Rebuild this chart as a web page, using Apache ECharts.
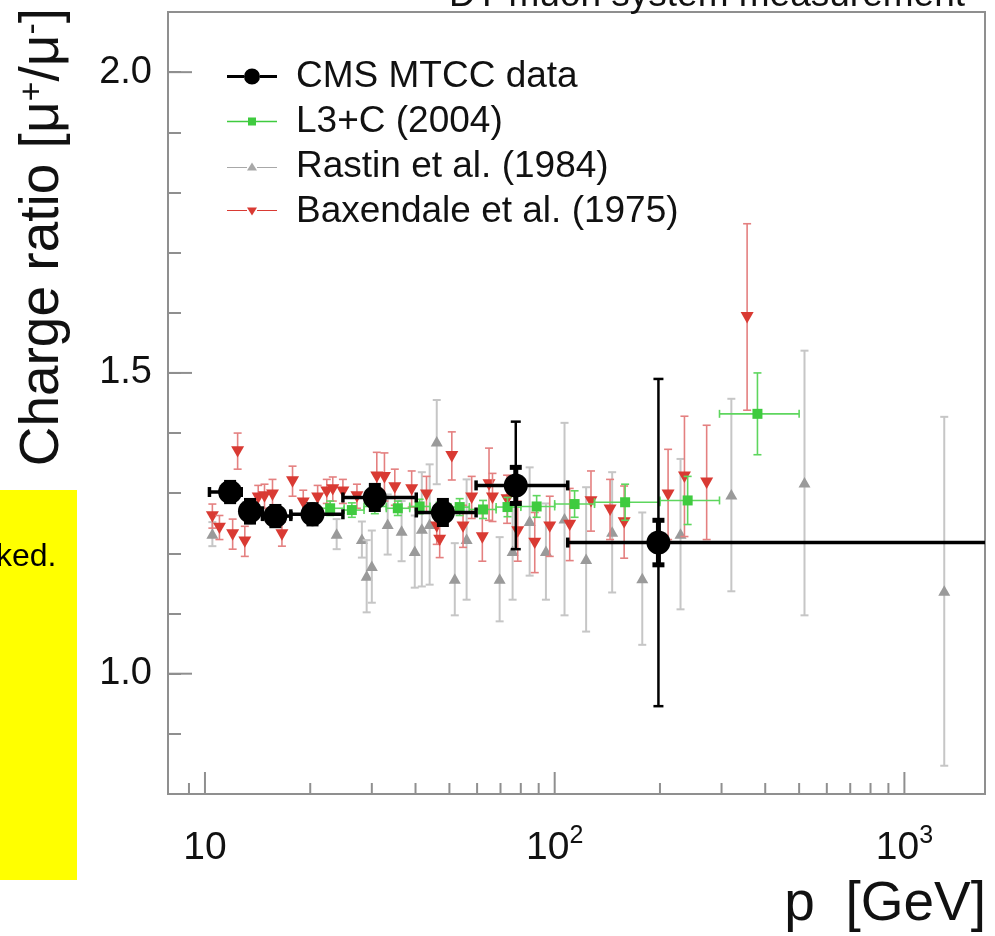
<!DOCTYPE html>
<html>
<head>
<meta charset="utf-8">
<script src="https://cdn.jsdelivr.net/npm/echarts@6/dist/echarts.min.js"></script>
<style>html,body{margin:0;padding:0;background:#fff}#c{width:995px;height:936px}</style>
</head>
<body>
<div id="c"></div>
<script>
// ---------------- data ----------------
const titleText = 'DT muon system measurement';
const yTitleText = 'Charge ratio [μ{s|+}/μ{s|-}]';
const xTitleText = 'p  [GeV]';
const noteText = 'ked.';
const seriesNames = ['CMS MTCC data', 'L3+C (2004)', 'Rastin et al. (1984)', 'Baxendale et al. (1975)'];

const xMin = 7.84, xMax = 1700;
const yMin = 0.8, yMax = 2.1;
const xMajorTicks = [10, 100, 1000];
const xMinorTicks = [9, 20, 30, 40, 50, 60, 70, 80, 90, 200, 300, 400, 500, 600, 700, 800, 900];
const yMajorTicks = [1.0, 1.5, 2.0];

// CMS MTCC data
const cmsP     = [11.8, 13.45, 15.9, 20.3, 30.6, 47.9, 77.4, 198];
const cmsR     = [1.302, 1.270, 1.262, 1.265, 1.293, 1.268, 1.313, 1.218];
const cmsPLo   = [10.3, 12.7, 14.6, 17.6, 24.8, 40.2, 59.6, 109];
const cmsPHi   = [12.7, 14.6, 17.6, 24.8, 40.2, 59.6, 109, 2000];
const cmsErr   = [0.016, 0.018, 0.016, 0.016, 0.02, 0.02, 0.106, 0.272];
const cmsStat  = [0.016, 0.018, 0.016, 0.016, 0.02, 0.02, 0.03, 0.037];

// L3+C (2004)
const l3cP   = [22.8, 26.3, 30.6, 35.6, 41.1, 46.9, 53.5, 62.4, 73.3, 88.8, 114, 159, 240, 380];
const l3cR   = [1.275, 1.272, 1.278, 1.275, 1.278, 1.272, 1.277, 1.273, 1.277, 1.278, 1.282, 1.285, 1.288, 1.432];
const l3cPLo = [20.5, 25, 28.5, 33, 38.5, 44, 50.5, 57, 68, 80, 100, 130, 200, 296];
const l3cPHi = [25, 28.5, 33, 38.5, 44, 50.5, 57, 68, 80, 100, 130, 200, 296, 500];
const l3cErr = [0.012, 0.012, 0.012, 0.012, 0.012, 0.013, 0.014, 0.015, 0.016, 0.018, 0.022, 0.03, 0.04, 0.068];

// Rastin et al. (1984)
const rastinP   = [10.5, 23.8, 28.1, 29.0, 30.0, 33.3, 36.5, 39.8, 41.7, 43.9, 46.0, 51.8, 56.0, 69.6, 75.8, 84.8, 94.4, 106.7, 123, 146, 178, 229, 320, 518, 1300];
const rastinR   = [1.232, 1.232, 1.223, 1.162, 1.178, 1.248, 1.237, 1.203, 1.24, 1.248, 1.385, 1.157, 1.223, 1.157, 1.203, 1.253, 1.203, 1.257, 1.19, 1.235, 1.158, 1.232, 1.297, 1.317, 1.137];
const rastinErr = [0.02, 0.025, 0.03, 0.06, 0.06, 0.05, 0.05, 0.06, 0.095, 0.10, 0.07, 0.06, 0.10, 0.07, 0.08, 0.09, 0.08, 0.16, 0.12, 0.10, 0.11, 0.125, 0.16, 0.22, 0.29];

// Baxendale et al. (1975)
const baxP   = [10.5, 11.0, 12.0, 12.4, 13.0, 14.2, 14.8, 15.6, 16.6, 17.8, 19.1, 21.0, 22.3, 23.2, 24.8, 27.2, 31.0, 32.6, 34.9, 39.0, 43.0, 46.0, 46.9, 50.8, 54.7, 57.9, 62.1, 64.9, 66.4, 73.1, 78.4, 87.7, 96.8, 110.4, 127, 144, 158, 211, 235, 272, 355];
const baxR   = [1.262, 1.243, 1.232, 1.37, 1.22, 1.293, 1.295, 1.298, 1.232, 1.32, 1.285, 1.293, 1.303, 1.307, 1.303, 1.295, 1.328, 1.327, 1.31, 1.307, 1.298, 1.245, 1.223, 1.362, 1.245, 1.293, 1.227, 1.315, 1.293, 1.29, 1.237, 1.218, 1.245, 1.248, 1.287, 1.273, 1.252, 1.298, 1.328, 1.318, 1.593];
const baxErr = [0.02, 0.02, 0.025, 0.03, 0.025, 0.02, 0.02, 0.025, 0.02, 0.025, 0.02, 0.02, 0.02, 0.02, 0.02, 0.02, 0.04, 0.04, 0.03, 0.03, 0.03, 0.03, 0.03, 0.04, 0.035, 0.035, 0.04, 0.06, 0.04, 0.04, 0.05, 0.05, 0.05, 0.06, 0.05, 0.05, 0.06, 0.075, 0.1, 0.095, 0.155];

// ---------------- styles ----------------
const FONT = 'Liberation Sans, Arial, Helvetica, sans-serif';
const TXT = '#111';
const FRAME = '#8f8f8f';
const cmsStyle = { color: '#000', line: '#000', lw: 2.5, cap: 5, marker: 'circle', size: 12, hbar: true, hw: 3.5, stat: true };
const l3cStyle = { color: '#3fcb3f', line: '#5ed65e', lw: 1.6, cap: 4, marker: 'rect', size: 5, hbar: true, hw: 1.6 };
const rastinStyle = { color: '#9a9a9a', line: '#c6c6c6', lw: 2, cap: 4, marker: 'up', size: 6 };
const baxStyle = { color: '#d93a33', line: '#e48080', lw: 1.6, cap: 4, marker: 'down', size: 6.5 };

function markerShape(kind, cx, cy, s, fill) {
  if (kind === 'circle') return { type: 'circle', shape: { cx: cx, cy: cy, r: s }, style: { fill: fill } };
  if (kind === 'rect') return { type: 'rect', shape: { x: cx - s, y: cy - s, width: 2 * s, height: 2 * s }, style: { fill: fill } };
  if (kind === 'up') return { type: 'polygon', shape: { points: [[cx, cy - s], [cx + s, cy + s * 0.75], [cx - s, cy + s * 0.75]] }, style: { fill: fill } };
  return { type: 'polygon', shape: { points: [[cx, cy + s], [cx + s, cy - s * 0.75], [cx - s, cy - s * 0.75]] }, style: { fill: fill } };
}

function errRender(cfg) {
  return function (params, api) {
    const x = api.value(0), y = api.value(1), e = api.value(2);
    const c = api.coord([x, y]);
    const t = api.coord([x, y + e]);
    const b = api.coord([x, y - e]);
    const ls = { stroke: cfg.line, lineWidth: cfg.lw };
    const kids = [
      { type: 'line', shape: { x1: c[0], y1: t[1], x2: c[0], y2: b[1] }, style: ls },
      { type: 'line', shape: { x1: c[0] - cfg.cap, y1: t[1], x2: c[0] + cfg.cap, y2: t[1] }, style: ls },
      { type: 'line', shape: { x1: c[0] - cfg.cap, y1: b[1], x2: c[0] + cfg.cap, y2: b[1] }, style: ls }
    ];
    if (cfg.hbar) {
      const l = api.coord([api.value(3), y]);
      const r = api.coord([api.value(4), y]);
      const hs = { stroke: cfg.line, lineWidth: cfg.hw };
      kids.push({ type: 'line', shape: { x1: l[0], y1: c[1], x2: r[0], y2: c[1] }, style: hs });
      kids.push({ type: 'line', shape: { x1: l[0], y1: c[1] - cfg.cap, x2: l[0], y2: c[1] + cfg.cap }, style: hs });
      kids.push({ type: 'line', shape: { x1: r[0], y1: c[1] - cfg.cap, x2: r[0], y2: c[1] + cfg.cap }, style: hs });
    }
    if (cfg.stat) {
      const s = api.value(5);
      const st = api.coord([x, y + s]);
      const sb = api.coord([x, y - s]);
      const ss = { stroke: cfg.line, lineWidth: 5 };
      kids.push({ type: 'line', shape: { x1: c[0], y1: st[1] - 2, x2: c[0], y2: sb[1] + 2 }, style: { stroke: cfg.line, lineWidth: 5 } });
      kids.push({ type: 'line', shape: { x1: c[0] - 6, y1: st[1], x2: c[0] + 6, y2: st[1] }, style: ss });
      kids.push({ type: 'line', shape: { x1: c[0] - 6, y1: sb[1], x2: c[0] + 6, y2: sb[1] }, style: ss });
    }
    kids.push(markerShape(cfg.marker, c[0], c[1], cfg.size, cfg.color));
    return { type: 'group', children: kids };
  };
}

const cmsData = cmsP.map((p, i) => [p, cmsR[i], cmsErr[i], cmsPLo[i], cmsPHi[i], cmsStat[i]]);
const l3cData = l3cP.map((p, i) => [p, l3cR[i], l3cErr[i], l3cPLo[i], l3cPHi[i]]);
const rastinData = rastinP.map((p, i) => [p, rastinR[i], rastinErr[i]]);
const baxData = baxP.map((p, i) => [p, baxR[i], baxErr[i]]);

const xTickData = xMinorTicks.map(v => [v, 0]).concat(xMajorTicks.map(v => [v, 1]));
const yTickData = yMajorTicks.map(v => [xMin, v]);

const chart = echarts.init(document.getElementById('c'), null, { renderer: 'canvas' });

const legendIcons = [
  'path://M0,9.5h17v3h-17z M33,9.5h17v3h-17z M17,11a8,8 0 1,1 16,0a8,8 0 1,1 -16,0z',
  'path://M0,10.2h21v1.6h-21z M29,10.2h21v1.6h-21z M21,7h8v8h-8z',
  'path://M0,10.4h20v1.2h-20z M30,10.4h20v1.2h-20z M25,6l5,8h-10z',
  'path://M0,10.4h20v1.2h-20z M30,10.4h20v1.2h-20z M20,8h10l-5,8z'
];
const legendColors = ['#000', '#3fcb3f', '#a8a8a8', '#d93a33'];

chart.setOption({
  animation: false,
  backgroundColor: '#fff',
  grid: { left: 168, right: 10, top: 12, bottom: 142, show: true, borderColor: FRAME, borderWidth: 2, containLabel: false, outerBoundsMode: 'none' },
  legend: {
    orient: 'vertical', left: 222, top: 53, itemGap: 8, itemWidth: 50, itemHeight: 22,
    symbolKeepAspect: true, selectedMode: false,
    textStyle: { fontFamily: FONT, fontSize: 37, color: TXT, lineHeight: 37, padding: [0, 0, 0, 14] },
    data: seriesNames.map((n, i) => ({ name: n, icon: legendIcons[i], itemStyle: { color: legendColors[i] } }))
  },
  xAxis: {
    type: 'log', logBase: 10, min: xMin, max: xMax,
    axisLine: { show: true, lineStyle: { color: FRAME, width: 2 } },
    axisTick: { show: false },
    splitLine: { show: false },
    axisLabel: {
      margin: 30, showMinLabel: false, showMaxLabel: false,
      formatter: function (v) {
        const e = Math.round(Math.log10(v));
        if (Math.abs(v - Math.pow(10, e)) > 1e-6 * v) return '';
        if (e === 1) return '{b|10}';
        return '{b|10}{s|' + e + '}';
      },
      rich: {
        b: { fontFamily: FONT, fontSize: 39, color: TXT, lineHeight: 44, verticalAlign: 'bottom' },
        s: { fontFamily: FONT, fontSize: 25, color: TXT, lineHeight: 44, verticalAlign: 'top' }
      }
    }
  },
  yAxis: {
    type: 'value', min: yMin, max: yMax, interval: 0.1,
    axisLine: { show: true, lineStyle: { color: FRAME, width: 2 } },
    axisTick: { show: true, inside: true, length: 13, lineStyle: { color: FRAME, width: 2 } },
    splitLine: { show: false },
    axisLabel: {
      margin: 16, fontFamily: FONT, fontSize: 38, color: TXT,
      formatter: function (v) {
        for (const t of yMajorTicks) if (Math.abs(v - t) < 1e-6) return t.toFixed(1);
        return '';
      }
    }
  },
  graphic: [
    { type: 'text', x: 965, y: 14, silent: true, style: { text: titleText, font: '37px ' + FONT, fill: TXT, align: 'right', verticalAlign: 'bottom' } },
    { type: 'text', x: 43, y: 8, rotation: Math.PI / 2, silent: true,
      style: { text: yTitleText, font: '55px ' + FONT, fill: TXT, align: 'right', verticalAlign: 'middle',
        rich: { s: { font: '34px ' + FONT, fill: TXT, verticalAlign: 'top' } } } },
    { type: 'text', x: 986, y: 905, silent: true, style: { text: xTitleText, font: '55px ' + FONT, fill: TXT, align: 'right', verticalAlign: 'middle' } },
    { type: 'rect', shape: { x: 0, y: 490, width: 77, height: 390 }, style: { fill: '#ffff00' }, silent: true },
    { type: 'text', x: -4, y: 557, silent: true, style: { text: noteText, font: '32px ' + FONT, fill: '#000', align: 'left', verticalAlign: 'middle' } }
  ],
  series: [
    { name: 'xticks', type: 'custom', silent: true, data: xTickData, z: 1,
      renderItem: function (params, api) {
        const p = api.coord([api.value(0), yMin]);
        const len = api.value(1) ? 22 : 11;
        return { type: 'line', shape: { x1: p[0], y1: p[1], x2: p[0], y2: p[1] - len }, style: { stroke: FRAME, lineWidth: 2 } };
      } },
    { name: 'yticks', type: 'custom', silent: true, data: yTickData, z: 1,
      renderItem: function (params, api) {
        const p = api.coord([xMin, api.value(1)]);
        return { type: 'line', shape: { x1: p[0], y1: p[1], x2: p[0] + 24, y2: p[1] }, style: { stroke: FRAME, lineWidth: 2 } };
      } },
    { name: seriesNames[2], type: 'custom', data: rastinData, itemStyle: { color: legendColors[2] }, renderItem: errRender(rastinStyle), clip: true, z: 2 },
    { name: seriesNames[3], type: 'custom', data: baxData, itemStyle: { color: legendColors[3] }, renderItem: errRender(baxStyle), clip: true, z: 3 },
    { name: seriesNames[1], type: 'custom', data: l3cData, itemStyle: { color: legendColors[1] }, renderItem: errRender(l3cStyle), clip: true, z: 4 },
    { name: seriesNames[0], type: 'custom', data: cmsData, itemStyle: { color: legendColors[0] }, renderItem: errRender(cmsStyle), clip: true, z: 5 }
  ]
});
</script>
</body>
</html>
